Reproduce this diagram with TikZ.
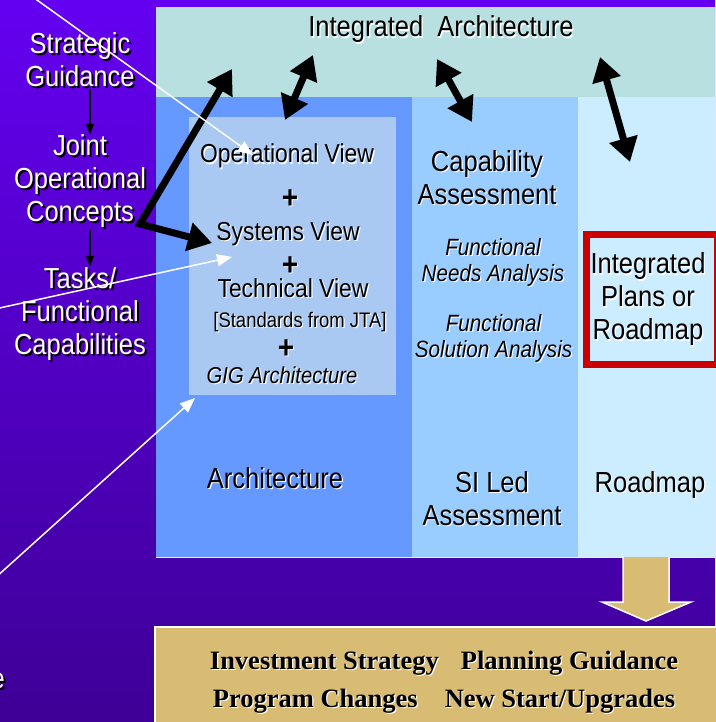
\documentclass[tikz,border=0pt]{standalone}
\usepackage{fontspec}
\setmainfont{Liberation Sans}[FakeStretch=0.88]
\newfontfamily\tanfont{Liberation Serif}
\usetikzlibrary{positioning, arrows.meta}

\definecolor{bgtop}{HTML}{6400F0}
\definecolor{bgbot}{HTML}{3E0096}
\definecolor{bandcol}{HTML}{B9E0E1}
\definecolor{archcol}{HTML}{6699FF}
\definecolor{viewcol}{HTML}{A9C9F2}
\definecolor{sicol}{HTML}{99CCFF}
\definecolor{roadcol}{HTML}{CCECFF}
\definecolor{tancol}{HTML}{D9BC73}
\definecolor{redcol}{HTML}{CC0000}

\newcommand{\shw}[1]{\makebox[0pt][l]{\hspace{2pt}\raisebox{-2pt}{\color{black}#1}}#1}
\newcommand{\shb}[1]{\makebox[0pt][l]{\hspace{1.2pt}\raisebox{-1.2pt}{\color{white}#1}}#1}

\begin{document}
\begin{tikzpicture}[x=1pt, y=-1pt, every node/.style={inner sep=0pt},
    big/.style={font=\fontsize{29}{33}\selectfont, align=center},
    side/.style={big, text=white},
    ital/.style={font=\fontsize{23.5}{26}\selectfont\itshape, align=center},
    view/.style={font=\fontsize{26}{30}\selectfont},
    plus/.style={font=\fontsize{32}{32}\selectfont\bfseries},
    flow/.style={line width=1.6pt, -{Triangle[length=11pt,width=8pt]}},
    pointer/.style={draw=white, line width=1.5pt, -{Triangle[length=15pt,width=12pt]}},
    link/.style={line width=7pt, {Triangle[length=24pt,width=28pt]}-{Triangle[length=24pt,width=28pt]}}]
    \useasboundingbox (0,0) rectangle (715,722);
    \shade[top color=bgtop, bottom color=bgbot] (0,0) rectangle (715,722);

    % bands and columns
    \fill[bandcol] (156,7) rectangle (715,97);
    \fill[archcol] (156,97) rectangle (412,557);
    \fill[sicol] (412,97) rectangle (578,557);
    \fill[roadcol] (578,97) rectangle (715,557);
    \draw[roadcol!60!white, line width=0.8pt] (156,557) -- (715,557);
    \fill[viewcol] (189,117) rectangle (396,395);

    \node[big, anchor=base] (intarch) at (441,37) {\shb{Integrated~~Architecture}};

    \node[side] (strat) at (80,61) {\shw{Strategic}\\\shw{Guidance}};
    \node[side] (joint) at (80,182.5) {\shw{Joint}\\\shw{Operational}\\\shw{Concepts}};
    \node[side] (tasks) at (80,314.5) {\shw{Tasks/}\\\shw{Functional}\\\shw{Capabilities}};
    \node[side, anchor=base east] (cut) at (5,688) {\shw{e}};

    \node[view, anchor=base] (opview) at (287,163) {\shb{Operational View}};
    \node[plus] (plus1) at (290,200) {\shb{+}};
    \node[view, anchor=base] (sysview) at (288,240) {\shb{Systems View}};
    \node[plus] (plus2) at (290,267) {\shb{+}};
    \node[view, anchor=base] (techview) at (293,297) {\shb{Technical View}};
    \node[font=\fontsize{21}{24}\selectfont, anchor=base] (jta) at (300,327) {\shb{[Standards from JTA]}};
    \node[plus] (plus3) at (286,350) {\shb{+}};
    \node[font=\fontsize{23}{26}\selectfont\itshape, anchor=base] (gig) at (282,383) {\shb{GIG Architecture}};
    \node[big, anchor=base] (arch) at (275,488) {\shb{Architecture}};

    \node[big] (capab) at (487,178) {\shb{Capability}\\\shb{Assessment}};
    \node[ital] (needs) at (493,263) {\shb{Functional}\\\shb{Needs Analysis}};
    \node[ital] (soln) at (493.5,339) {\shb{Functional}\\\shb{Solution Analysis}};
    \node[big] (silead) at (492,499) {\shb{SI Led}\\\shb{Assessment}};

    \node[draw=redcol, line width=7pt, minimum width=131pt, minimum height=130pt] (redbox) at (652,299.5) {};
    \node[big] (plans) at (648,300) {\shb{Integrated}\\\shb{Plans or}\\\shb{Roadmap}};
    \node[big, anchor=base] (road) at (650,492.5) {\shb{Roadmap}};

    \draw[fill=tancol, draw=white, line width=1.5pt] (623,557) -- (623,602) -- (602,602) -- (646,621)
        -- (691,602) -- (669,602) -- (669,557);
    \node[draw=white, fill=tancol, line width=1.5pt, minimum width=562pt, minimum height=97pt] (outcome) at (436,675.5) {};
    \node[font=\tanfont\bfseries\fontsize{26.5}{38}\selectfont, align=center] (goals) at (444,683)
        {\shb{Investment Strategy}\hspace{22pt}\shb{Planning Guidance}\\
         \shb{Program Changes}\hspace{27pt}\shb{New Start/Upgrades}};

    \draw[flow] ([xshift=10pt]strat.south) -- ([xshift=10pt]joint.north);
    \draw[flow] ([xshift=10pt]joint.south) -- ([xshift=10pt]tasks.north);

    \coordinate (vtx) at (140,224);
    \coordinate (uptip) at (232,69);
    \coordinate (systip) at (212,243);
    \draw[link] (uptip) -- (vtx) -- (systip);
    \coordinate (a1) at (313,55);   \coordinate (b1) at (285,120);
    \coordinate (a2) at (437,59);   \coordinate (b2) at (472,122);
    \coordinate (a3) at (600,57);   \coordinate (b3) at (630,162);
    \draw[link] (a1) -- (b1);
    \draw[link] (a2) -- (b2);
    \draw[link] (a3) -- (b3);

    \coordinate (src1) at (30,-5);
    \coordinate (src2) at (-5,309);
    \coordinate (src3) at (-5,578);
    \draw[pointer] (src1) -- (253,155);
    \draw[pointer] (src2) -- (232,257);
    \draw[pointer] (src3) -- (195,398);
\end{tikzpicture}
\end{document}
